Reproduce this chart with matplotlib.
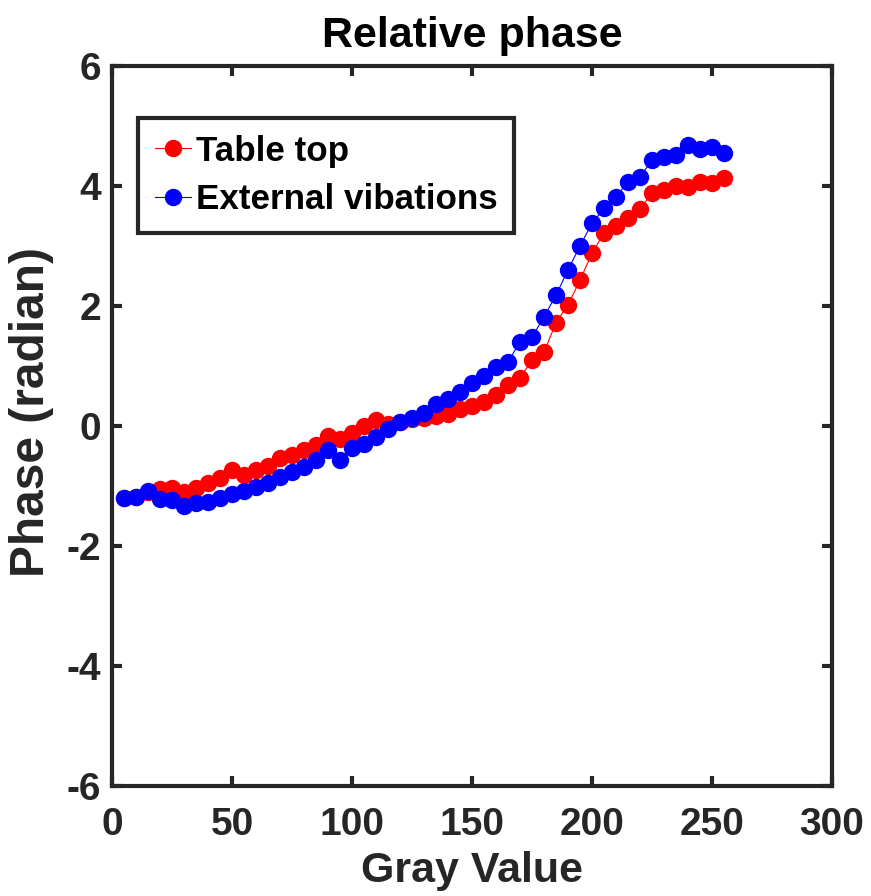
import matplotlib
matplotlib.use("Agg")
import matplotlib.pyplot as plt

plt.rcParams["axes.unicode_minus"] = False
plt.rcParams["font.family"] = ["Liberation Sans", "DejaVu Sans"]
plt.rcParams["font.weight"] = "bold"

# gray values (x) shared by both series
gray = list(range(5, 260, 5))

table_top = [-1.20, -1.18, -1.10, -1.05, -1.04, -1.10, -1.03, -0.95, -0.87, -0.73,
             -0.82, -0.74, -0.66, -0.53, -0.48, -0.40, -0.32, -0.17, -0.21, -0.12,
             0.00, 0.10, 0.03, 0.07, 0.12, 0.14, 0.16, 0.20, 0.28, 0.33,
             0.40, 0.52, 0.68, 0.80, 1.10, 1.23, 1.72, 2.02, 2.43, 2.88,
             3.22, 3.33, 3.47, 3.62, 3.88, 3.93, 4.00, 3.98, 4.07, 4.05, 4.13]

external = [-1.20, -1.18, -1.08, -1.22, -1.24, -1.33, -1.28, -1.26, -1.20, -1.13,
            -1.08, -1.02, -0.95, -0.85, -0.76, -0.68, -0.56, -0.40, -0.56, -0.36,
            -0.30, -0.18, -0.05, 0.06, 0.13, 0.22, 0.37, 0.45, 0.56, 0.72,
            0.83, 0.98, 1.07, 1.40, 1.48, 1.82, 2.18, 2.60, 3.00, 3.38,
            3.63, 3.82, 4.07, 4.15, 4.43, 4.48, 4.52, 4.68, 4.62, 4.65, 4.55]

xticks = [0, 50, 100, 150, 200, 250, 300]
yticks = [-6, -4, -2, 0, 2, 4, 6]

INK = "#262626"

fig = plt.figure(figsize=(8.71, 8.96), dpi=100)
ax = fig.add_axes([0.1286, 0.1228, 0.8266, 0.8035])

ax.plot(gray, table_top, "-o", color="red", lw=0.8, ms=11.5, mec="red",
        label="Table top")
ax.plot(gray, external, "-o", color="blue", lw=0.8, ms=11.5, mec="blue",
        label="External vibations")

ax.set_xlim(0, 300)
ax.set_ylim(-6, 6)
ax.set_xticks(xticks)
ax.set_yticks(yticks)
ax.tick_params(direction="in", length=7, width=3, top=True, right=True,
               color=INK, labelcolor=INK, labelsize=28, pad=8)
ax.tick_params(axis="x", pad=15)
for s in ax.spines.values():
    s.set_linewidth(3)
    s.set_color(INK)

ax.set_xlabel("Gray Value", fontweight="bold", fontsize=31, color=INK, labelpad=6)
ax.set_ylabel("Phase (radian)", fontweight="bold", fontsize=34.5, color=INK)
ax.yaxis.set_label_coords(-0.08, 0.52)
ax.set_title("Relative phase", fontweight="bold", fontsize=31, color="black", pad=14)

leg = ax.legend(loc="upper left", bbox_to_anchor=(0.036, 0.928),
                prop={"weight": "bold", "size": 25.2},
                frameon=True, fancybox=False, framealpha=1, edgecolor=INK,
                handlelength=1.05, handletextpad=0.12,
                borderpad=0.48, labelspacing=0.44, borderaxespad=0)
leg.get_frame().set_linewidth(3)

fig.savefig("out.png", dpi=100, facecolor="white")
